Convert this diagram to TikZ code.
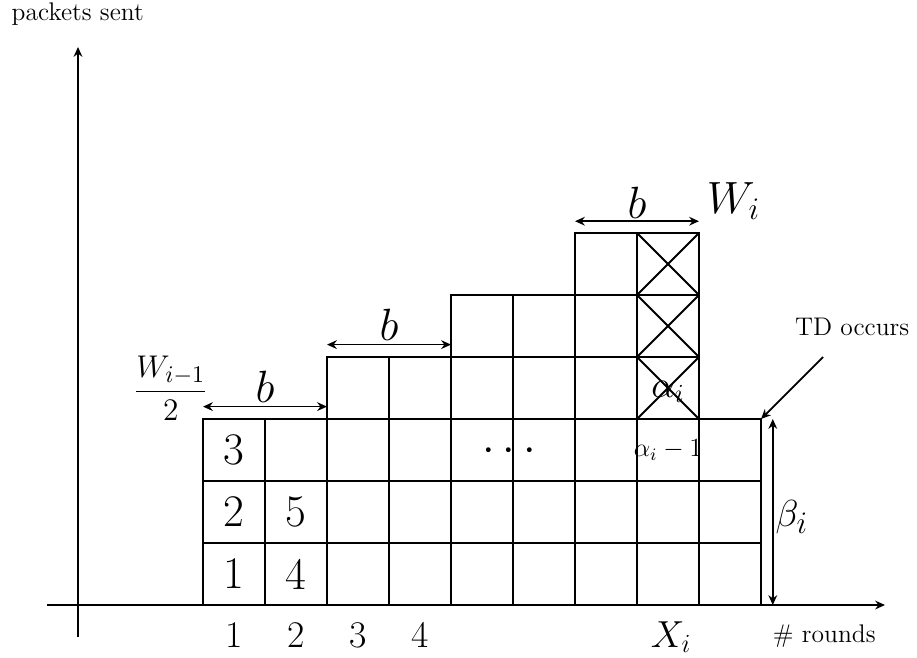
\documentclass[tikz,border=0pt]{standalone}
\usetikzlibrary{arrows.meta}
\begin{document}
\begin{tikzpicture}[x=1cm,y=1cm,
  cell/.style={draw,line width=0.9pt,minimum size=1cm,inner sep=0pt,outer sep=0pt},
  axis/.style={line width=1pt,-{Stealth[length=4.5pt,width=4pt]}},
  dim/.style={line width=0.8pt,{Stealth[length=4.5pt,width=4pt]}-{Stealth[length=4.5pt,width=4pt]}},
  ptr/.style={line width=0.8pt,-{Stealth[length=4.5pt,width=4pt]}},
  cross/.style={line width=0.9pt},
  plain/.style={font=\fontsize{11.7}{14}\selectfont,inner sep=0pt},
  big/.style={font=\huge,inner sep=0pt},
  mid/.style={font=\LARGE,inner sep=0pt}]
\useasboundingbox (-3.274,-0.839) rectangle (11.516,9.758);

% axes
\coordinate (xa0) at (-2.516,0);
\coordinate (xa1) at (11.0,0);
\coordinate (ya0) at (-2.016,-0.516);
\coordinate (ya1) at (-2.016,9.0);
\draw[axis] (xa0) -- (xa1);
\draw[axis] (ya0) -- (ya1);

% base cells
\foreach \i in {0,...,8}{
  \foreach \j in {0,1,2}{
    \node[cell] (c-\i-\j) at (\i+0.5,\j+0.5) {};
  }
}
\foreach \i in {2,3}{\node[cell] (c-\i-3) at (\i+0.5,3.5) {};}
\foreach \i in {4,5}{\foreach \j in {3,4}{\node[cell] (c-\i-\j) at (\i+0.5,\j+0.5) {};}}
\foreach \i in {6,7}{\foreach \j in {3,4,5}{\node[cell] (c-\i-\j) at (\i+0.5,\j+0.5) {};}}

% crossed cells
\foreach \j in {3,4,5}{
  \draw[cross] (c-7-\j.south west) -- (c-7-\j.north east);
  \draw[cross] (c-7-\j.north west) -- (c-7-\j.south east);
}

% numbers in cells
\node[big] (n1) at (c-0-0) {1};
\node[big] (n2) at (c-0-1) {2};
\node[big] (n3) at (c-0-2) {3};
\node[big] (n4) at (c-1-0) {4};
\node[big] (n5) at (c-1-1) {5};

% labels in cells
\node[big,anchor=base] (dots) at (4.94,2.31) {$\cdots$};
\node[font=\fontsize{18.5}{22}\selectfont,inner sep=0pt,anchor=base] (alpha) at (7.5,3.35) {$\alpha_i$};
\node[font=\fontsize{11.5}{14}\selectfont,inner sep=0pt,anchor=base] (alpham) at (7.5,2.39) {$\alpha_i-1$};

% x labels
\node[mid,anchor=base] (x1) at (0.5,-0.68) {1};
\node[mid,anchor=base] (x2) at (1.5,-0.68) {2};
\node[mid,anchor=base] (x3) at (2.5,-0.68) {3};
\node[mid,anchor=base] (x4) at (3.5,-0.68) {4};
\node[mid,anchor=base] (xi) at (7.55,-0.68) {$X_i$};
\node[plain,anchor=base] (rounds) at (10.02,-0.61) {\# rounds};
\node[plain,anchor=base] (psent) at (-2.02,9.42) {packets sent};

% b dimension arrows
\coordinate (b1l) at (0,3.2); \coordinate (b1r) at (2,3.2);
\coordinate (b2l) at (2,4.2); \coordinate (b2r) at (4,4.2);
\coordinate (b3l) at (6,6.19); \coordinate (b3r) at (8,6.19);
\draw[dim] (b1l) -- (b1r);
\draw[dim] (b2l) -- (b2r);
\draw[dim] (b3l) -- (b3r);
\node[big,anchor=base] (lb1) at (1.0,3.26) {$b$};
\node[big,anchor=base] (lb2) at (3.0,4.26) {$b$};
\node[big,anchor=base] (lb3) at (7.0,6.24) {$b$};

\node[big,anchor=base west] (wi) at (8.12,6.32) {$W_i$};
\node[font=\fontsize{15.5}{18}\selectfont,inner sep=0pt,anchor=base] (wfrac) at (-0.52,3.32) {$\displaystyle\frac{W_{i-1}}{2}$};

% beta
\coordinate (be0) at (9.19,0);
\coordinate (be1) at (9.19,3);
\draw[dim] (be0) -- (be1);
\node[font=\fontsize{19}{22}\selectfont,inner sep=0pt,anchor=base west] (beta) at (9.23,1.27) {$\beta_i$};

% TD occurs
\node[plain,anchor=base] (td) at (10.47,4.35) {TD occurs};
\coordinate (tds) at (10.0,4.0);
\draw[ptr] (tds) -- (c-8-2.north east);
\end{tikzpicture}
\end{document}
